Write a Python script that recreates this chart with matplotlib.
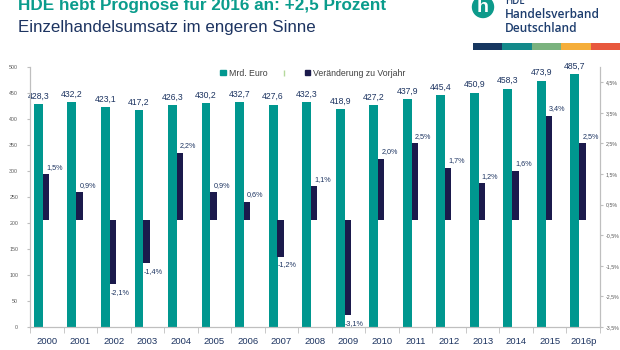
import numpy as np
from matplotlib import pyplot as plt
from matplotlib.patches import Patch, Circle, Rectangle
from matplotlib.lines import Line2D

plt.rcParams['font.family'] = ['Liberation Sans', 'DejaVu Sans']

###########################################
#               Data
###########################################
years = ['2000', '2001', '2002', '2003', '2004', '2005', '2006', '2007', '2008',
         '2009', '2010', '2011', '2012', '2013', '2014', '2015', '2016p']
umsatz = [428.3, 432.2, 423.1, 417.2, 426.3, 430.2, 432.7, 427.6, 432.3,
          418.9, 427.2, 437.9, 445.4, 450.9, 458.3, 473.9, 485.7]
veraenderung = [1.5, 0.9, -2.1, -1.4, 2.2, 0.9, 0.6, -1.2, 1.1,
                -3.1, 2.0, 2.5, 1.7, 1.2, 1.6, 3.4, 2.5]
left_ticks = list(range(0, 501, 50))
right_ticks = [-3.5, -2.5, -1.5, -0.5, 0.5, 1.5, 2.5, 3.5, 4.5]

teal = '#00978f'
navy = '#1b1a4c'
textnavy = '#1d3461'

def de(v, d=1):
    return ('%.*f' % (d, v)).replace('.', ',')

###########################################
#               Figure
###########################################
fig = plt.figure(figsize=(6.2, 3.5), dpi=100)
ax = fig.add_axes([30/620, 1-327/350, 570/620, 260/350])
ax2 = ax.twinx()

x = np.arange(len(years))
xt = x - 0.25
xv = x - 0.025
ax.bar(xt, umsatz, width=0.265, color=teal, zorder=2)
ax2.bar(xv, veraenderung, width=0.19, color=navy, zorder=2)

ax.set_xlim(-0.5, len(years) - 0.5)
ax.set_ylim(0, 500)
ax2.set_ylim(-3.5, 5.0)

for xi, v in zip(xt, umsatz):
    ax.annotate(de(v), (xi, v), xytext=(0, 2.5), textcoords='offset points',
                ha='center', va='bottom', fontsize=6.2, color=textnavy)
for xi, v in zip(xv, veraenderung):
    if v >= 0:
        ax2.annotate(de(v) + '%', (xi, v), xytext=(0, 2.5), textcoords='offset points',
                     ha='left', va='bottom', fontsize=5.2, color=textnavy)
    else:
        ax2.annotate(de(v) + '%', (xi, v), xytext=(-2, -3.5), textcoords='offset points',
                     ha='left', va='top', fontsize=5.2, color=textnavy)

# axes styling
for a in (ax, ax2):
    a.spines['top'].set_visible(False)
    for s in ('left', 'right', 'bottom'):
        a.spines[s].set_color('#bfbfbf')
        a.spines[s].set_linewidth(0.8)
ax.set_yticks(left_ticks)
ax.set_yticklabels([str(t) for t in left_ticks])
ax.tick_params(axis='y', labelsize=3.8, colors='#bfbfbf', labelcolor='#595959', length=2.5, pad=6)
ax2.set_yticks(right_ticks)
ax2.set_yticklabels([de(t) + '%' for t in right_ticks])
ax2.tick_params(axis='y', labelsize=3.8, colors='#bfbfbf', labelcolor='#595959', length=2.5, pad=1.5)

ax.set_xticks(x)
ax.set_xticklabels(years)
ax.set_xticks(np.arange(len(years) + 1) - 0.5, minor=True)
ax.tick_params(axis='x', which='major', length=0, pad=7, labelsize=6.8, labelcolor=textnavy)
ax.tick_params(axis='x', which='minor', length=4, color='#bfbfbf')

handles = [Patch(color=teal), Line2D([], [], marker='|', color='#b5d99c', lw=0, markersize=4),
           Patch(color=navy)]
fig.legend(handles, ['Mrd. Euro', '', 'Veränderung zu Vorjahr'], ncol=3, frameon=False,
           loc='center', bbox_to_anchor=(0.505, 1-73/350), fontsize=6.3,
           handlelength=0.6, handleheight=0.6, handletextpad=0.4, columnspacing=1.6,
           labelcolor='#404040')

###########################################
#               Header
###########################################
fig.text(18/620, 1-10/350, 'HDE hebt Prognose für 2016 an: +2,5 Prozent', fontsize=12.3,
         fontweight='bold', color='#0a9c8c', ha='left', va='baseline')
fig.text(18/620, 1-32/350, 'Einzelhandelsumsatz im engeren Sinne', fontsize=12.2,
         color=textnavy, ha='left', va='baseline')

# logo
hdr = fig.add_axes([0, 0, 1, 1], zorder=-1)
hdr.set_xlim(0, 620)
hdr.set_ylim(350, 0)
hdr.axis('off')
hdr.add_patch(Circle((483, 7), 10.5, color='#0d9a8b'))
hdr.text(483, 8, 'h', color='white', fontsize=14, fontweight='bold', ha='center', va='center')
logo_font = ['Open Sans', 'Liberation Sans']
hdr.text(505, 4, 'HDE', color='#1d3d6e', fontsize=7, va='baseline', family=logo_font,
         fontweight='semibold')
hdr.text(505, 18, 'Handelsverband', color='#1d3d6e', fontsize=8.6, va='baseline',
         family=logo_font, fontweight='semibold')
hdr.text(505, 32, 'Deutschland', color='#1d3d6e', fontsize=8.6, va='baseline',
         family=logo_font, fontweight='semibold')
stripes = ['#173760', '#13898a', '#7ab27e', '#f5ae3a', '#e8583d']
for i, c in enumerate(stripes):
    hdr.add_patch(Rectangle((473 + i*29.4, 43), 29.4, 7, color=c, lw=0))

fig.savefig('out.png', dpi=100)
